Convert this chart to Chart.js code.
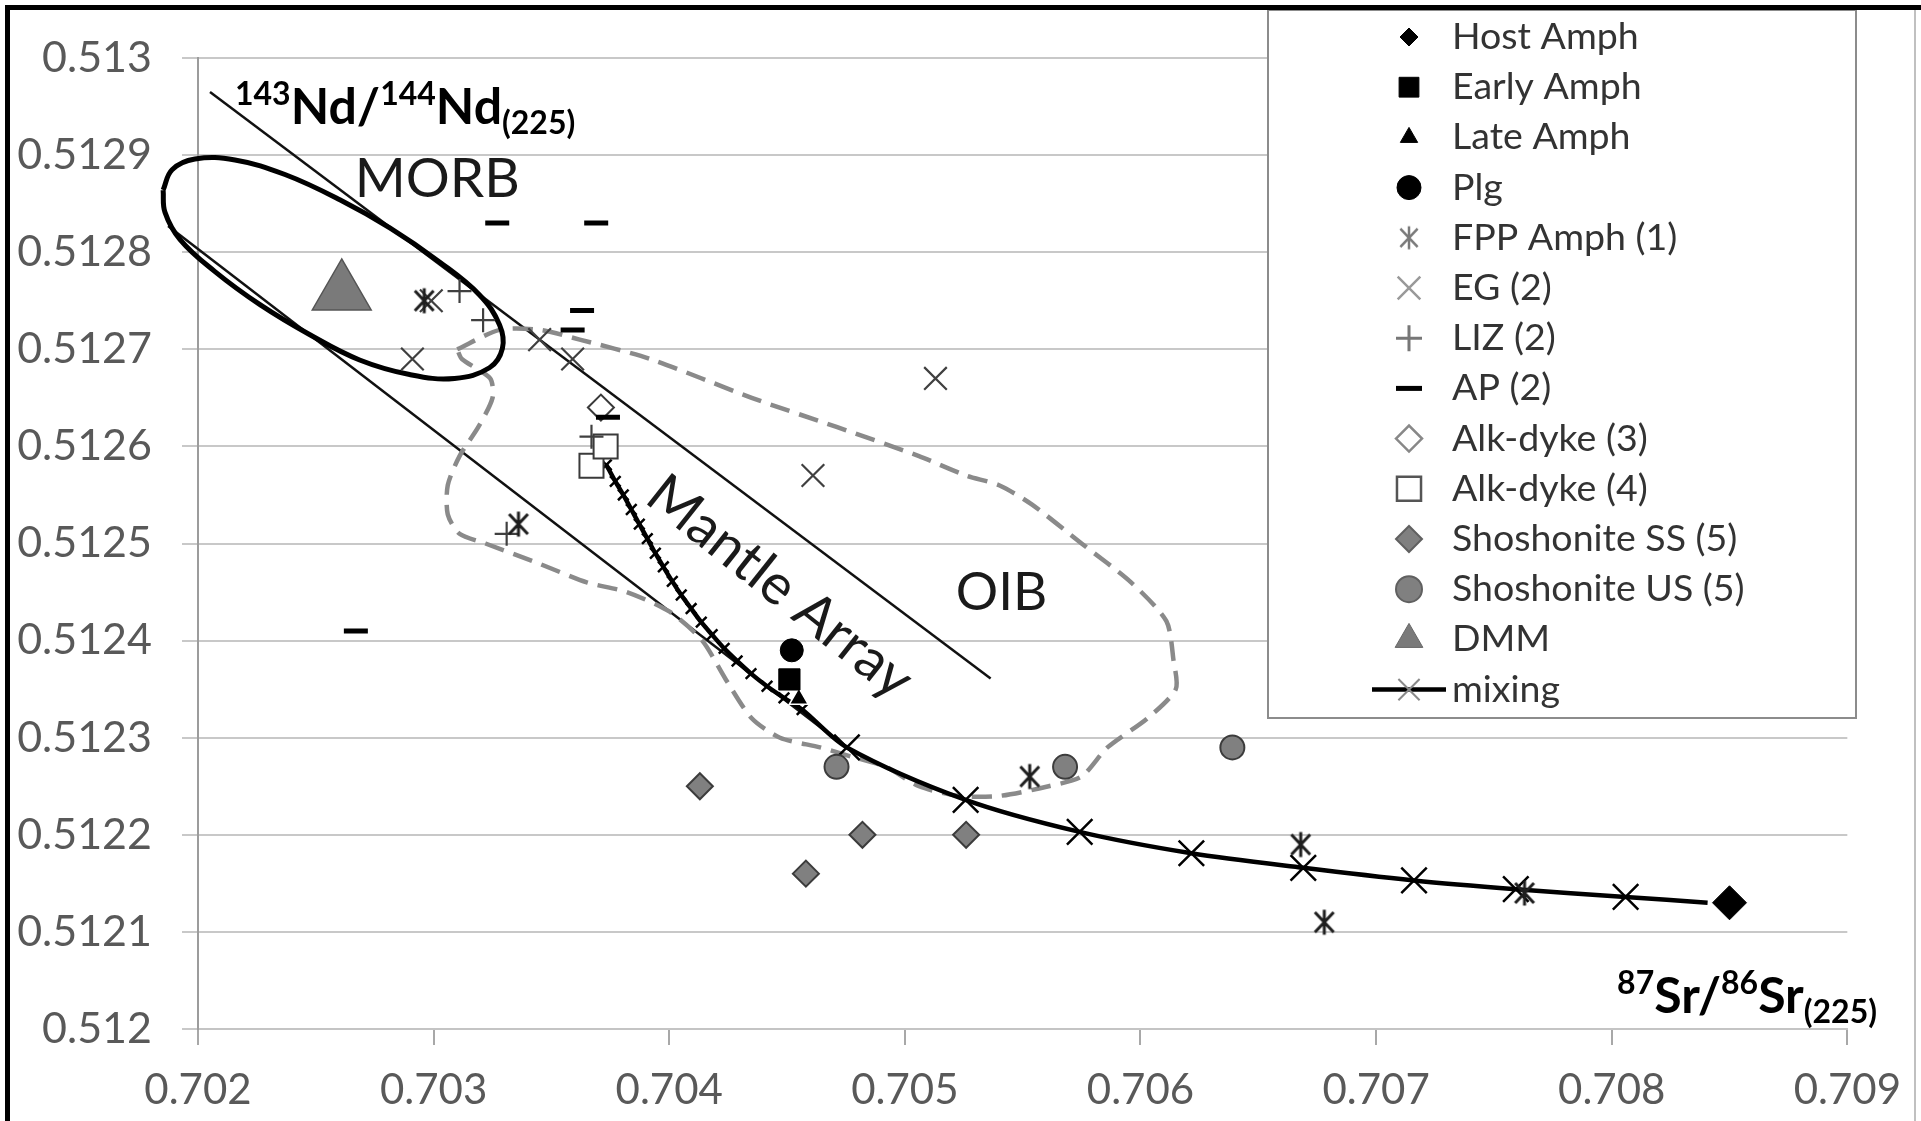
<!DOCTYPE html>
<html>
<head>
<meta charset="utf-8">
<script src="https://cdn.jsdelivr.net/npm/chart.js@4.4.1/dist/chart.umd.min.js"></script>
<style>
  html, body { margin: 0; padding: 0; background: #fff; }
  #wrap { width: 1921px; height: 1121px; }
</style>
</head>
<body>
<div id="wrap"><canvas id="srNdChart" width="1921" height="1121"></canvas></div>
<script>
// axis ticks
const xTicks = [0.702, 0.703, 0.704, 0.705, 0.706, 0.707, 0.708, 0.709];
const xTickLabels = ['0.702', '0.703', '0.704', '0.705', '0.706', '0.707', '0.708', '0.709'];
const yTicks = [0.512, 0.5121, 0.5122, 0.5123, 0.5124, 0.5125, 0.5126, 0.5127, 0.5128, 0.5129, 0.513];
const yTickLabels = ['0.512', '0.5121', '0.5122', '0.5123', '0.5124', '0.5125', '0.5126', '0.5127', '0.5128', '0.5129', '0.513'];

// samples: 87Sr/86Sr and 143Nd/144Nd
const hostAmphSr = [0.70850];
const hostAmphNd = [0.51213];
const earlyAmphSr = [0.70451];
const earlyAmphNd = [0.51236];
const lateAmphSr = [0.70455];
const lateAmphNd = [0.51234];
const plgSr = [0.70452];
const plgNd = [0.51239];
const fppSr = [0.70296, 0.70336, 0.70553, 0.70668, 0.70678, 0.70763];
const fppNd = [0.51275, 0.51252, 0.51226, 0.51219, 0.51211, 0.51214];
const egSr = [0.70299, 0.70291, 0.70345, 0.70359, 0.70461, 0.70513];
const egNd = [0.51275, 0.51269, 0.51271, 0.51269, 0.51257, 0.51267];
const lizSr = [0.70311, 0.70321, 0.70331, 0.70367];
const lizNd = [0.51276, 0.51273, 0.51251, 0.51261];
const apSr = [0.70327, 0.70369, 0.70363, 0.70359, 0.70374, 0.70267];
const apNd = [0.51283, 0.51283, 0.51274, 0.51272, 0.51263, 0.51241];
const alk3Sr = [0.70371];
const alk3Nd = [0.51264];
const alk4Sr = [0.70367, 0.70373];
const alk4Nd = [0.51258, 0.51260];
const shoSsSr = [0.70413, 0.70482, 0.70526, 0.70458];
const shoSsNd = [0.51225, 0.51220, 0.51220, 0.51216];
const shoUsSr = [0.70471, 0.70568, 0.70639];
const shoUsNd = [0.51227, 0.51227, 0.51229];
const dmmSr = [0.70261];
const dmmNd = [0.512758];

// mixing curve
const mixSr = [0.703733, 0.703771, 0.703805, 0.703839, 0.703873, 0.703907, 0.703941, 0.703975, 0.704013, 0.704051,
  0.704093, 0.704136, 0.704182, 0.704233, 0.704288, 0.704347, 0.704415, 0.704487, 0.704564, 0.704754,
  0.705258, 0.705742, 0.706216, 0.706691, 0.707161, 0.707593, 0.708059, 0.708407];
const mixNd = [0.512581, 0.512564, 0.512550, 0.512535, 0.512520, 0.512505, 0.512490, 0.512476, 0.512461, 0.512447,
  0.512433, 0.512419, 0.512406, 0.512392, 0.512379, 0.512366, 0.512353, 0.512341, 0.512329, 0.512290,
  0.512236, 0.512203, 0.512181, 0.512166, 0.512153, 0.512144, 0.512136, 0.512130];

// fields
const morbSr = [0.701852, 0.701890, 0.701987, 0.702157, 0.702369, 0.702602, 0.702814, 0.703025, 0.703195, 0.703280,
  0.703292, 0.703237, 0.703089, 0.702898, 0.702686, 0.702475, 0.702263, 0.702072, 0.701924, 0.701860, 0.701852];
const morbNd = [0.512864, 0.512885, 0.512896, 0.512895, 0.512880, 0.512854, 0.512825, 0.512790, 0.512756, 0.512725,
  0.512701, 0.512681, 0.512670, 0.512674, 0.512689, 0.512715, 0.512746, 0.512780, 0.512813, 0.512841, 0.512864];
const oibSr = [0.70310, 0.70328, 0.70345, 0.70362, 0.70392, 0.70435, 0.70471, 0.70506, 0.70526, 0.70540,
  0.70554, 0.70575, 0.70596, 0.70611, 0.70614, 0.70615, 0.70603, 0.70586, 0.70575, 0.70561,
  0.70540, 0.70523, 0.70506, 0.70492, 0.70478, 0.70464, 0.70447, 0.70435, 0.70424, 0.70414,
  0.70400, 0.70382, 0.70365, 0.70344, 0.70322, 0.70311, 0.70306, 0.70306, 0.70311, 0.70319,
  0.70325, 0.70324, 0.70312, 0.70310];
const oibNd = [0.51270, 0.51272, 0.51272, 0.51271, 0.51269, 0.51265, 0.51262, 0.51259, 0.51257, 0.51256,
  0.51254, 0.51250, 0.51246, 0.51242, 0.51238, 0.51235, 0.51232, 0.51229, 0.51226, 0.51225,
  0.51224, 0.51224, 0.51225, 0.51227, 0.51228, 0.51229, 0.51230, 0.51232, 0.51236, 0.51240,
  0.51243, 0.51245, 0.51246, 0.51248, 0.51250, 0.51251, 0.51253, 0.51256, 0.51259, 0.51262,
  0.51265, 0.51267, 0.51269, 0.51270];
const arrayUpperSr = [0.702051, 0.705364];
const arrayUpperNd = [0.512965, 0.512361];
const arrayLowerSr = [0.701873, 0.704742];
const arrayLowerNd = [0.512827, 0.512292];

function pts(xs, ys) {
  return xs.map((x, i) => ({ x: x, y: ys[i] }));
}

// excel style asterisk: an x with a vertical bar
function makeAsterisk(size, color, lw) {
  const c = document.createElement('canvas');
  c.width = size;
  c.height = size;
  const g = c.getContext('2d');
  const m = size / 2, r = size / 2 - 1.5;
  g.strokeStyle = color;
  g.lineWidth = lw;
  g.beginPath();
  g.moveTo(m - r * 0.75, m - r * 0.8); g.lineTo(m + r * 0.75, m + r * 0.8);
  g.moveTo(m + r * 0.75, m - r * 0.8); g.lineTo(m - r * 0.75, m + r * 0.8);
  g.moveTo(m, m - r); g.lineTo(m, m + r);
  g.stroke();
  return c;
}
const asteriskPlot = makeAsterisk(28, '#1e1e1e', 3);
const asteriskLegend = makeAsterisk(26, '#7a7a7a', 2.5);

Chart.defaults.font.family = 'Lato';

const datasets = [
  { label: 'Host Amph', data: pts(hostAmphSr, hostAmphNd), pointStyle: 'rectRot', pointRadius: 17,
    pointBackgroundColor: '#000', pointBorderColor: '#000', pointBorderWidth: 1,
    key: { shape: 'rectRot', r: 9, bg: '#000', border: '#000', bw: 1 } },
  { label: 'Early Amph', data: pts(earlyAmphSr, earlyAmphNd), pointStyle: 'rect', pointRadius: 15,
    pointBackgroundColor: '#000', pointBorderColor: '#000', pointBorderWidth: 1,
    key: { shape: 'rect', r: 14, bg: '#000', border: '#000', bw: 1 } },
  { label: 'Late Amph', data: pts(lateAmphSr, lateAmphNd), pointStyle: 'triangle', pointRadius: 11,
    pointBackgroundColor: '#000', pointBorderColor: '#fff', pointBorderWidth: 1.5,
    key: { shape: 'triangle', r: 10, bg: '#000', border: '#000', bw: 1 } },
  { label: 'Plg', data: pts(plgSr, plgNd), pointStyle: 'circle', pointRadius: 11.5,
    pointBackgroundColor: '#000', pointBorderColor: '#000', pointBorderWidth: 1,
    key: { shape: 'circle', r: 12, bg: '#000', border: '#000', bw: 1 } },
  { label: 'FPP Amph (1)', data: pts(fppSr, fppNd), pointStyle: asteriskPlot, pointRadius: 12,
    key: { shape: asteriskLegend, r: 12 } },
  { label: 'EG (2)', data: pts(egSr, egNd), pointStyle: 'crossRot', pointRadius: 16,
    pointBorderColor: '#404040', pointBorderWidth: 2.2,
    key: { shape: 'crossRot', r: 16, bg: '#999', border: '#999', bw: 2.5 } },
  { label: 'LIZ (2)', data: pts(lizSr, lizNd), pointStyle: 'cross', pointRadius: 12,
    pointBorderColor: '#404040', pointBorderWidth: 2.2,
    key: { shape: 'cross', r: 13, bg: '#777', border: '#777', bw: 3 } },
  { label: 'AP (2)', data: pts(apSr, apNd), pointStyle: 'line', pointRadius: 12,
    pointBorderColor: '#000', pointBorderWidth: 5,
    key: { shape: 'line', r: 13, bg: '#000', border: '#000', bw: 5 } },
  { label: 'Alk-dyke (3)', data: pts(alk3Sr, alk3Nd), pointStyle: 'rectRot', pointRadius: 13,
    pointBackgroundColor: '#fff', pointBorderColor: '#3a3a3a', pointBorderWidth: 2,
    key: { shape: 'rectRot', r: 13, bg: '#fff', border: '#888', bw: 2.5 } },
  { label: 'Alk-dyke (4)', data: pts(alk4Sr, alk4Nd), pointStyle: 'rect', pointRadius: 17,
    pointBackgroundColor: '#fff', pointBorderColor: '#3a3a3a', pointBorderWidth: 2,
    key: { shape: 'rect', r: 17, bg: '#fff', border: '#555', bw: 2.5 } },
  { label: 'Shoshonite SS (5)', data: pts(shoSsSr, shoSsNd), pointStyle: 'rectRot', pointRadius: 13,
    pointBackgroundColor: '#808080', pointBorderColor: '#3c3c3c', pointBorderWidth: 2,
    key: { shape: 'rectRot', r: 13, bg: '#808080', border: '#606060', bw: 2 } },
  { label: 'Shoshonite US (5)', data: pts(shoUsSr, shoUsNd), pointStyle: 'circle', pointRadius: 12,
    pointBackgroundColor: '#808080', pointBorderColor: '#3c3c3c', pointBorderWidth: 2,
    key: { shape: 'circle', r: 13, bg: '#808080', border: '#606060', bw: 2 } },
  { label: 'DMM', data: pts(dmmSr, dmmNd), pointStyle: 'triangle', pointRadius: 34,
    pointBackgroundColor: '#7a7a7a', pointBorderColor: '#555', pointBorderWidth: 1.5,
    key: { shape: 'triangle', r: 16, bg: '#7a7a7a', border: '#666', bw: 1 } },
  { label: 'mixing', data: pts(mixSr, mixNd), showLine: true, tension: 0.3,
    borderColor: '#000', borderWidth: 4.5, borderJoinStyle: 'round',
    pointStyle: 'crossRot',
    pointRadius: (c) => (c.dataIndex < 19 ? 7.5 : (c.dataIndex === mixSr.length - 1 ? 0 : 18)),
    pointBorderColor: '#000', pointBorderWidth: 2.5,
    key: { shape: 'crossRot', r: 15, bg: '#8a8a8a', border: '#8a8a8a', bw: 2, line: true } },
  { label: 'MORB', data: pts(morbSr, morbNd), showLine: true, tension: 0.4, clip: false,
    borderColor: '#000', borderWidth: 5, pointRadius: 0 },
  { label: 'OIB', data: pts(oibSr, oibNd), showLine: true, tension: 0.25, clip: false,
    borderColor: '#8a8a8a', borderWidth: 4.5, borderDash: [20, 10], pointRadius: 0 },
  { label: 'Mantle Array upper', data: pts(arrayUpperSr, arrayUpperNd), showLine: true, clip: false,
    borderColor: '#111', borderWidth: 2.5, pointRadius: 0 },
  { label: 'Mantle Array lower', data: pts(arrayLowerSr, arrayLowerNd), showLine: true, clip: false,
    borderColor: '#111', borderWidth: 2.5, pointRadius: 0 }
];

// text placed inside the plot, anchored in data units
const fieldLabels = [
  { text: 'MORB', sr: 0.702665, nd: 0.512857, size: 55, angle: 0, align: 'left', base: 'alphabetic' },
  { text: 'OIB', sr: 0.705216, nd: 0.512432, size: 53, angle: 0, align: 'left', base: 'alphabetic' },
  { text: 'Mantle Array', sr: 0.70447, nd: 0.512455, size: 56, angle: 38.5, align: 'center', base: 'middle' }
];

const ndTitle = [['143', 'sup'], ['Nd/', 'n'], ['144', 'sup'], ['Nd', 'n'], ['(225)', 'sub']];
const srTitle = [['87', 'sup'], ['Sr/', 'n'], ['86', 'sup'], ['Sr', 'n'], ['(225)', 'sub']];

function drawRich(ctx, parts, x, y, align) {
  const big = 'bold 50px Lato', small = 'bold 32px Lato';
  let w = 0;
  parts.forEach((p) => {
    ctx.font = p[1] === 'n' ? big : small;
    w += ctx.measureText(p[0]).width;
  });
  let cx = align === 'right' ? x - w : x;
  ctx.textAlign = 'left';
  ctx.textBaseline = 'alphabetic';
  parts.forEach((p) => {
    ctx.font = p[1] === 'n' ? big : small;
    const dy = p[1] === 'sup' ? -19 : (p[1] === 'sub' ? 10 : 0);
    ctx.fillText(p[0], cx, y + dy);
    cx += ctx.measureText(p[0]).width;
  });
}

const overlay = {
  id: 'overlay',
  afterDatasetsDraw(chart) {
    const ctx = chart.ctx;
    const xs = chart.scales.x, ys = chart.scales.y;
    ctx.save();
    ctx.fillStyle = '#1a1a1a';
    fieldLabels.forEach((l) => {
      ctx.save();
      ctx.translate(xs.getPixelForValue(l.sr), ys.getPixelForValue(l.nd));
      ctx.rotate(l.angle * Math.PI / 180);
      ctx.font = l.size + 'px Lato';
      ctx.textAlign = l.align;
      ctx.textBaseline = l.base;
      ctx.fillText(l.text, 0, 0);
      ctx.restore();
    });
    ctx.restore();
  },
  afterDraw(chart) {
    const ctx = chart.ctx;
    ctx.save();
    ctx.fillStyle = '#000';
    drawRich(ctx, ndTitle, 235, 124, 'left');
    drawRich(ctx, srTitle, 1877, 1013, 'right');

    // legend box
    const box = { left: 1268, top: 10, right: 1856, bottom: 718 };
    ctx.fillStyle = '#fff';
    ctx.fillRect(box.left, box.top, box.right - box.left, box.bottom - box.top);
    ctx.strokeStyle = '#8c8c8c';
    ctx.lineWidth = 2;
    ctx.strokeRect(box.left, box.top, box.right - box.left, box.bottom - box.top);

    const rowTop = 37, rowGap = 50.2, markX = 1409, textX = 1452;
    const items = chart.data.datasets.filter((d) => d.key);
    items.forEach((d, i) => {
      const y = rowTop + i * rowGap;
      const k = d.key;
      if (k.line) {
        ctx.strokeStyle = '#000';
        ctx.lineWidth = 4.5;
        ctx.beginPath();
        ctx.moveTo(1372, y);
        ctx.lineTo(1446, y);
        ctx.stroke();
      }
      ctx.save();
      ctx.fillStyle = k.bg || '#000';
      ctx.strokeStyle = k.border || '#000';
      ctx.lineWidth = k.bw || 1;
      Chart.helpers.drawPoint(ctx, { pointStyle: k.shape, radius: k.r, rotation: 0, borderWidth: k.bw || 1 }, markX, y);
      ctx.restore();
      ctx.fillStyle = '#333';
      ctx.font = '37.5px Lato';
      ctx.textAlign = 'left';
      ctx.textBaseline = 'middle';
      ctx.fillText(d.label, textX, y);
    });

    // outer frame
    ctx.fillStyle = '#000';
    ctx.fillRect(5, 5, 1916, 5);
    ctx.fillRect(5, 5, 5, 1116);
    ctx.fillStyle = '#c0c0c0';
    ctx.fillRect(1914, 10, 2, 1111);
    ctx.restore();
  }
};

new Chart(document.getElementById('srNdChart'), {
  type: 'scatter',
  data: { datasets: datasets },
  options: {
    responsive: false,
    devicePixelRatio: 1,
    animation: false,
    events: [],
    layout: { padding: { top: 58, right: 71, left: 0, bottom: 0 } },
    plugins: { legend: { display: false }, tooltip: { enabled: false } },
    scales: {
      x: {
        type: 'linear', min: 0.702, max: 0.709,
        afterBuildTicks: (s) => { s.ticks = xTicks.map((v) => ({ value: v })); },
        afterFit: (s) => { s.height = 92; },
        ticks: {
          callback: (v, i) => xTickLabels[i],
          font: { family: 'Lato', size: 42 }, color: '#595959', padding: 20,
          maxRotation: 0, autoSkip: false
        },
        grid: { drawOnChartArea: false, drawTicks: true, tickLength: 16, color: '#a8a8a8', lineWidth: 2 },
        border: { display: true, color: '#c4c4c4', width: 2 }
      },
      y: {
        type: 'linear', min: 0.512, max: 0.513,
        afterBuildTicks: (s) => { s.ticks = yTicks.map((v) => ({ value: v })); },
        afterFit: (s) => { s.width = 198; },
        ticks: {
          callback: (v, i) => yTickLabels[i],
          font: { family: 'Lato', size: 43 }, color: '#595959', padding: 30, autoSkip: false
        },
        grid: { color: '#c8c8c8', lineWidth: 2, tickLength: 16 },
        border: { display: true, color: '#9c9c9c', width: 2 }
      }
    }
  },
  plugins: [overlay]
});
</script>
</body>
</html>
